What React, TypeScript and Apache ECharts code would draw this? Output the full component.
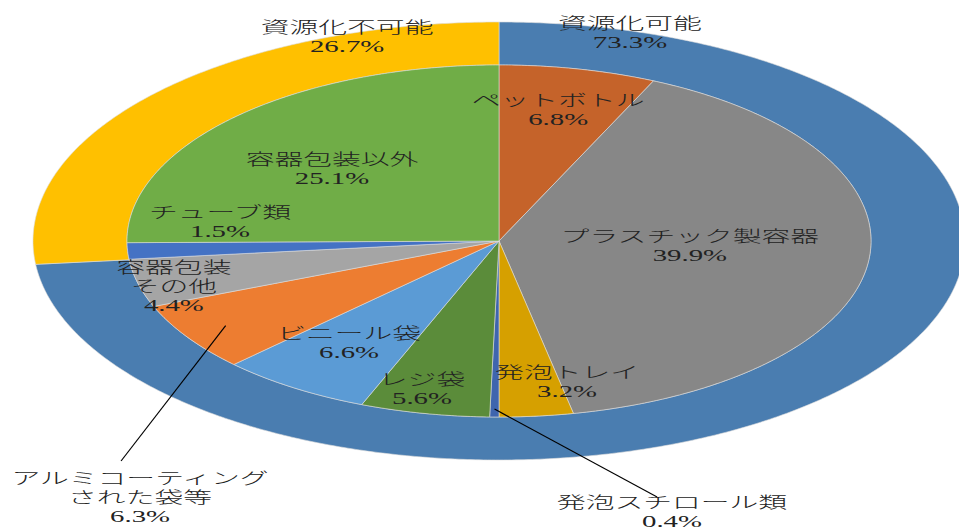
import { useEffect, useRef } from "react";
import * as echarts from "echarts";

// ---- data ----
const OUTER_NAMES = ["資源化可能", "資源化不可能"];
const OUTER_VALUES = [73.3, 26.7];

const INNER_NAMES = [
  "ペットボトル",
  "プラスチック製容器",
  "発泡トレイ",
  "発泡スチロール類",
  "レジ袋",
  "ビニール袋",
  "アルミコーティング\nされた袋等",
  "容器包装\nその他",
  "チューブ類",
  "容器包装以外",
];
const INNER_VALUES = [6.8, 39.9, 3.2, 0.4, 5.6, 6.6, 6.3, 4.4, 1.5, 25.1];

// ---- styles / layout ----
const OUTER_COLORS = ["#4A7DB0", "#FFC000"];
const INNER_COLORS = [
  "#C5632A",
  "#878787",
  "#D6A000",
  "#3F65AE",
  "#5B8C3A",
  "#5B9BD5",
  "#ED7D31",
  "#A5A5A5",
  "#4472C4",
  "#70AD47",
];

const CX = 499;
const CY = 241;
const INNER_RX = 372;
const INNER_RY = 176;
const OUTER_RX = 466;
const OUTER_RY = 219;
const TEXT_SCALE = 1.8;
const FONT_FAMILY = '"Liberation Serif", "Noto Sans CJK JP", serif';

// label centres, normalised to the inner ellipse radii (u = dx/rx, v = dy/ry)
const INNER_LABEL_UV: [number, number][] = [
  [0.159, -0.744],
  [0.513, 0.028],
  [0.183, 0.801],
  [0.465, 1.542],
  [-0.207, 0.841],
  [-0.403, 0.58],
  [-0.965, 1.46],
  [-0.874, 0.256],
  [-0.75, -0.108],
  [-0.449, -0.409],
];
// outer labels normalised to outer radii
const OUTER_LABEL_UV: [number, number][] = [
  [0.281, -0.95],
  [-0.326, -0.932],
];
// leader lines: index -> [radius fraction at slice mid angle, end u, end v]
const LEADERS: Record<number, [number, number, number]> = {
  3: [0.955, 0.425, 1.455],
  6: [0.878, -1.016, 1.25],
};

function cumAngles(values: number[]): [number, number][] {
  const total = values.reduce((a, b) => a + b, 0);
  let acc = 0;
  return values.map((v) => {
    const a0 = (acc / total) * 360;
    acc += v;
    return [a0, (acc / total) * 360];
  });
}

function pt(angle: number, rx: number, ry: number): [number, number] {
  const t = (angle * Math.PI) / 180;
  return [CX + rx * Math.sin(t), CY - ry * Math.cos(t)];
}

function arc(a0: number, a1: number, rx: number, ry: number): [number, number][] {
  const steps = Math.max(2, Math.ceil((a1 - a0) / 0.5));
  const out: [number, number][] = [];
  for (let s = 0; s <= steps; s++) {
    out.push(pt(a0 + ((a1 - a0) * s) / steps, rx, ry));
  }
  return out;
}

const fmt = (v: number) => `${v.toFixed(1)}%`;

function textEl(x: number, y: number, text: string) {
  return {
    type: "text",
    x,
    y,
    scaleX: TEXT_SCALE,
    z2: 100,
    style: {
      text,
      fill: "#222",
      fontSize: 16,
      fontWeight: 300,
      fontFamily: FONT_FAMILY,
      align: "center",
      verticalAlign: "middle",
      lineHeight: 19,
    },
  };
}

export default function App() {
  const ref = useRef<HTMLDivElement>(null);

  useEffect(() => {
    if (!ref.current) return;
    const chart = echarts.init(ref.current, undefined, { renderer: "svg" });
    const outerAngles = cumAngles(OUTER_VALUES);
    const innerAngles = cumAngles(INNER_VALUES);

    const option: any = {
      animation: false,
      backgroundColor: "#ffffff",
      series: [
        {
          type: "custom",
          name: "outer",
          coordinateSystem: "none",
          z: 1,
          data: OUTER_VALUES.map((v, i) => ({ name: OUTER_NAMES[i], value: v })),
          renderItem: (params: any) => {
            const i = params.dataIndex;
            const [a0, a1] = outerAngles[i];
            const points = [
              ...arc(a0, a1, OUTER_RX, OUTER_RY),
              ...arc(a0, a1, INNER_RX, INNER_RY).reverse(),
            ];
            const [u, v] = OUTER_LABEL_UV[i];
            return {
              type: "group",
              children: [
                {
                  type: "polygon",
                  shape: { points },
                  style: { fill: OUTER_COLORS[i], stroke: "#dcdcdc", lineWidth: 0.6 },
                },
                textEl(CX + u * OUTER_RX, CY + v * OUTER_RY, `${OUTER_NAMES[i]}\n${fmt(OUTER_VALUES[i])}`),
              ],
            };
          },
        },
        {
          type: "custom",
          name: "inner",
          coordinateSystem: "none",
          z: 2,
          data: INNER_VALUES.map((v, i) => ({ name: INNER_NAMES[i], value: v })),
          renderItem: (params: any) => {
            const i = params.dataIndex;
            const [a0, a1] = innerAngles[i];
            const points = [[CX, CY], ...arc(a0, a1, INNER_RX, INNER_RY)];
            return {
              type: "polygon",
              shape: { points },
              style: { fill: INNER_COLORS[i], stroke: "#dcdcdc", lineWidth: 0.6 },
            };
          },
        },
        {
          type: "custom",
          name: "innerLabels",
          coordinateSystem: "none",
          z: 3,
          data: INNER_VALUES.map((v, i) => ({ name: INNER_NAMES[i], value: v })),
          renderItem: (params: any) => {
            const i = params.dataIndex;
            const [a0, a1] = innerAngles[i];
            const [u, v] = INNER_LABEL_UV[i];
            const children: any[] = [];
            const leader = LEADERS[i];
            if (leader) {
              const [rf, eu, ev] = leader;
              const [x1, y1] = pt((a0 + a1) / 2, INNER_RX * rf, INNER_RY * rf);
              children.push({
                type: "line",
                shape: { x1, y1, x2: CX + eu * INNER_RX, y2: CY + ev * INNER_RY },
                style: { stroke: "#000", lineWidth: 1.2 },
              });
            }
            children.push(
              textEl(CX + u * INNER_RX, CY + v * INNER_RY, `${INNER_NAMES[i]}\n${fmt(INNER_VALUES[i])}`)
            );
            return { type: "group", children };
          },
        },
      ],
    };
    chart.setOption(option);
    return () => chart.dispose();
  }, []);

  return (
    <div
      ref={ref}
      style={{ position: "absolute", left: 0, top: 0, width: 959, height: 532 }}
    />
  );
}
